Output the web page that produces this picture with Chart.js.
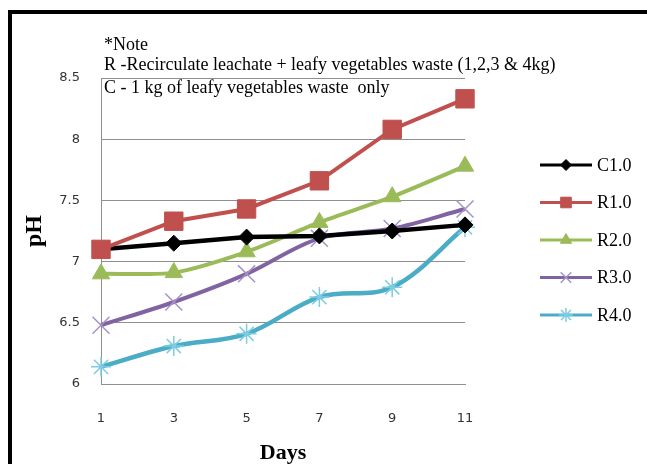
<!DOCTYPE html>
<html>
<head>
<meta charset="utf-8">
<title>pH vs Days</title>
<script src="https://cdn.jsdelivr.net/npm/chart.js@4/dist/chart.umd.min.js"></script>
<style>
  html, body { margin: 0; padding: 0; background: #fff; }
  #wrap { position: relative; width: 647px; height: 464px; overflow: hidden; }
  #frame { position: absolute; left: 8px; top: 10px; width: 700px; height: 500px;
           border-top: 4px solid #000; border-left: 4px solid #000; }
  #c { position: absolute; left: 0; top: 0; }
  .note { position: absolute; left: 104px; font: 18px "Liberation Serif", "Times New Roman", serif;
          color: #000; white-space: pre; line-height: 20px; }
</style>
</head>
<body>
<div id="wrap">
  <div id="frame"></div>
  <canvas id="c" width="647" height="464"></canvas>
  <div class="note" style="top:34px">*Note</div>
  <div class="note" style="top:54px">R -Recirculate leachate + leafy vegetables waste (1,2,3 &amp; 4kg)</div>
  <div class="note" style="top:77px">C - 1 kg of leafy vegetables waste  only</div>
</div>
<script>
// Sampling days and pH readings per reactor
const days = [1, 3, 5, 7, 9, 11];
const seriesNames = ['C1.0', 'R1.0', 'R2.0', 'R3.0', 'R4.0'];
const phC10 = [7.10, 7.15, 7.20, 7.21, 7.25, 7.30];
const phR10 = [7.10, 7.33, 7.43, 7.66, 8.08, 8.33];
const phR20 = [6.90, 6.91, 7.08, 7.32, 7.53, 7.78];
const phR30 = [6.48, 6.67, 6.90, 7.19, 7.27, 7.43];
const phR40 = [6.14, 6.31, 6.41, 6.71, 6.79, 7.28];
const yTickLabels = ['6', '6.5', '7', '7.5', '8', '8.5'];
const yMin = 6, yMax = 8.5, yStep = 0.5;

const gridGray = '#8f8f8f';
const serif = '"Liberation Serif", "Times New Roman", serif';

// Legend drawn to the right of the plot, using each dataset's own styling
const sideKey = {
  id: 'sideKey',
  afterDraw(chart) {
    const ctx = chart.ctx;
    const x0 = 540, x1 = 592, top = 165, step = 37.5;
    chart.data.datasets.forEach((ds, i) => {
      const y = top + i * step;
      ctx.save();
      ctx.strokeStyle = ds.borderColor;
      ctx.lineWidth = 3;
      ctx.beginPath();
      ctx.moveTo(x0, y);
      ctx.lineTo(x1, y);
      ctx.stroke();
      ctx.fillStyle = ds.pointBackgroundColor;
      ctx.strokeStyle = ds.pointBorderColor;
      ctx.lineWidth = ds.pointBorderWidth;
      Chart.helpers.drawPoint(ctx, {
        pointStyle: ds.pointStyle, radius: ds.keyRadius, rotation: 0,
        borderWidth: ds.pointBorderWidth
      }, (x0 + x1) / 2, y);
      ctx.fillStyle = '#000';
      ctx.font = '18px ' + serif;
      ctx.textBaseline = 'middle';
      ctx.textAlign = 'left';
      ctx.fillText(ds.label, 597, y + 1);
      ctx.restore();
    });
  }
};

function series(name, data, color, markerColor, style, radius, keyRadius, tension, order, borderW) {
  return {
    label: name, data: data,
    borderColor: color, backgroundColor: color,
    borderWidth: borderW,
    pointStyle: style, pointRadius: radius, pointHoverRadius: radius,
    pointBackgroundColor: markerColor, pointBorderColor: markerColor,
    pointBorderWidth: (style === 'crossRot' || style === 'star') ? 1.5 : 1,
    keyRadius: keyRadius,
    tension: tension, order: order, clip: false, fill: false
  };
}

new Chart(document.getElementById('c'), {
  type: 'line',
  data: {
    labels: days,
    datasets: [
      series(seriesNames[0], phC10, '#000000', '#000000', 'rectRot', 8, 5.5, 0, 1, 4.5),
      series(seriesNames[1], phR10, '#C0504D', '#C0504D', 'rect', 13, 7.5, 0, 0, 4),
      series(seriesNames[2], phR20, '#9BBB59', '#9BBB59', 'triangle', 10, 6.5, 0.25, 2, 4),
      series(seriesNames[3], phR30, '#8064A2', '#A593C9', 'crossRot', 12, 7.5, 0.35, 3, 4),
      series(seriesNames[4], phR40, '#4BACC6', '#7CCDE2', 'star', 10, 7, 0.35, 4, 4.5)
    ]
  },
  options: {
    responsive: false,
    animation: false,
    events: [],
    layout: { padding: { top: 78, right: 182, left: 0, bottom: 0 } },
    plugins: { legend: { display: false }, tooltip: { enabled: false } },
    scales: {
      x: {
        type: 'category',
        offset: false,
        grid: { display: false, drawTicks: false },
        border: { display: true, color: gridGray, width: 1 },
        ticks: { padding: 27, color: '#333', font: { family: '"DejaVu Sans", sans-serif', size: 13 },
                 maxRotation: 0, autoSkip: false },
        title: { display: true, text: 'Days', color: '#000',
                 font: { family: serif, size: 22, weight: 'bold', lineHeight: 1 },
                 padding: { top: 0, bottom: 0 } },
        afterFit(s) { s.height = 80; }
      },
      y: {
        min: yMin, max: yMax,
        grid: { color: gridGray, lineWidth: 1, drawTicks: false },
        border: { display: true, color: gridGray, width: 1 },
        ticks: { stepSize: yStep, padding: 21, color: '#333',
                 font: { family: '"DejaVu Sans", sans-serif', size: 13 },
                 callback: (v, i) => yTickLabels[i] },
        title: { display: true, text: 'pH', color: '#000',
                 font: { family: serif, size: 24, weight: 'bold', lineHeight: 1 },
                 padding: { top: 23, bottom: 0 } },
        afterFit(s) { s.width = 101; }
      }
    }
  },
  plugins: [sideKey]
});
</script>
</body>
</html>
